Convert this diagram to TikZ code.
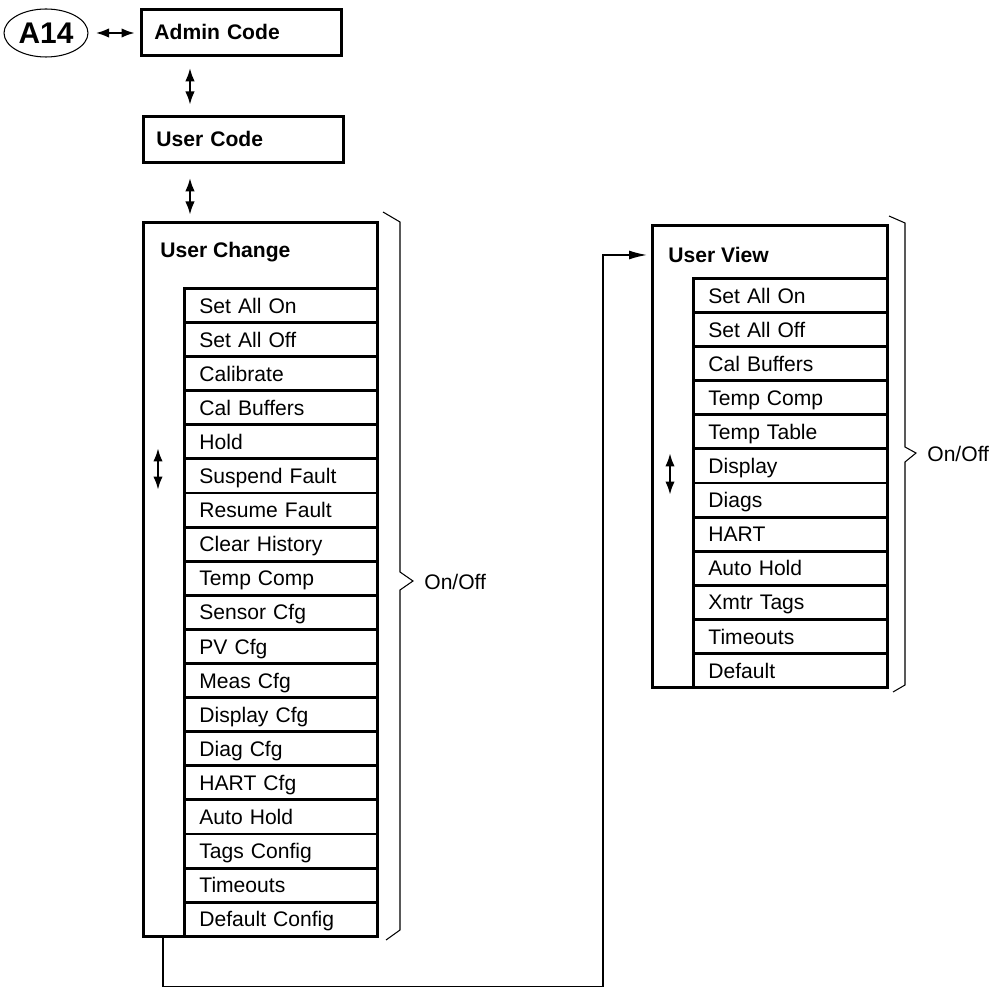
\documentclass[tikz,border=0pt]{standalone}
\usepackage{fontspec}
\setmainfont{Liberation Sans}
\usetikzlibrary{shapes.geometric, arrows.meta, positioning, calc}

\begin{document}
\begin{tikzpicture}[x=0.02cm, y=-0.02cm,
        codebox/.style={rectangle, draw, line width=1.6pt, minimum height=0.92cm, inner xsep=0.26cm, inner ysep=0pt, text width=3.48cm, text height=8.6pt, text depth=0pt, align=left, font=\fontsize{12}{14}\selectfont\bfseries, anchor=north west},
        panel/.style={rectangle, draw, line width=1.6pt, inner sep=0pt, anchor=north west},
        item/.style={rectangle, draw, line width=1.6pt, fill=white, minimum height=0.682cm, inner xsep=0.3cm, inner ysep=0pt, text height=8.6pt, text depth=0pt, align=left, font=\fontsize{12}{14}\selectfont, anchor=north west},
        title/.style={font=\fontsize{12}{14}\selectfont\bfseries, anchor=west, inner sep=0pt},
        dbl/.style={{Latex[length=0.27cm,width=0.19cm]}-{Latex[length=0.27cm,width=0.19cm]}, line width=1.4pt},
        brace/.style={line width=0.6pt, line join=miter}]
    \useasboundingbox (0,0) rectangle (994,989);
    % top chain
    \node[ellipse, draw, line width=0.6pt, minimum width=1.68cm, minimum height=0.96cm, inner sep=0pt, font=\fontsize{17}{19}\selectfont\bfseries] (a14) at (46,33) {A14};
    \node[codebox] (admin) at (140,8) {Admin Code};
    \node[codebox] (ucode) at (142,115) {User Code};
    \draw[dbl, shorten <=0.14cm, shorten >=0.1cm] (a14.east) -- (a14.east -| admin.west);
    \draw[dbl, shorten <=0.22cm, shorten >=0.2cm] ([xshift=1cm]admin.south west) -- ([xshift=1cm]admin.south west |- ucode.north);
    % user change list
    \node[panel, minimum width=4.68cm, minimum height=14.28cm] (uchange) at (142,221) {};
    \node[title] (uctitle) at (160,252) {User Change};
    \foreach \lbl [count=\i] in {Set All On, Set All Off, Calibrate, Cal Buffers, Hold, Suspend Fault, Resume Fault, Clear History, Temp Comp, Sensor Cfg, PV Cfg, Meas Cfg, Display Cfg, Diag Cfg, HART Cfg, Auto Hold, Tags Config, Timeouts, Default Config}
        \node[item, text width=3.26cm] (uc\i) at (183,{287+(\i-1)*34.1}) {\lbl};
    \draw[dbl, shorten <=0.28cm, shorten >=0.12cm] ([xshift=0.96cm]ucode.south west) -- ([xshift=0.96cm]ucode.south west |- uchange.north);
    \draw[dbl] (158,448) -- (158,490);
    \draw[brace] (383,212) -- (400,222) -- (400,572) -- (413,581) -- (400,590) -- (400,930) -- (386,940);
    \node[font=\fontsize{12}{14}\selectfont, anchor=west, inner sep=0pt] (onoffc) at (424,582) {On/Off};
    % user view list
    \node[panel, minimum width=4.7cm, minimum height=9.24cm] (uview) at (651,224) {};
    \node[title] (uvtitle) at (668,255) {User View};
    \foreach \lbl [count=\i] in {Set All On, Set All Off, Cal Buffers, Temp Comp, Temp Table, Display, Diags, HART, Auto Hold, Xmtr Tags, Timeouts, Default}
        \node[item, text width=3.28cm] (uv\i) at (692,{277+(\i-1)*34.1}) {\lbl};
    \draw[dbl] (670,453) -- (670,495);
    \draw[brace] (889,216) -- (905,223) -- (905,447) -- (916,453) -- (905,462) -- (905,685) -- (893,692);
    \node[font=\fontsize{12}{14}\selectfont, anchor=west, inner sep=0pt] (onoffv) at (927,454) {On/Off};
    % link to user view
    \draw[line width=0.85pt, -{Latex[length=0.36cm,width=0.18cm]}] ([xshift=0.42cm]uchange.south west) |- ++(8.8cm,-0.98cm) |- ($(uvtitle.west -| uview.west)+(-4,0)$);
\end{tikzpicture}
\end{document}
